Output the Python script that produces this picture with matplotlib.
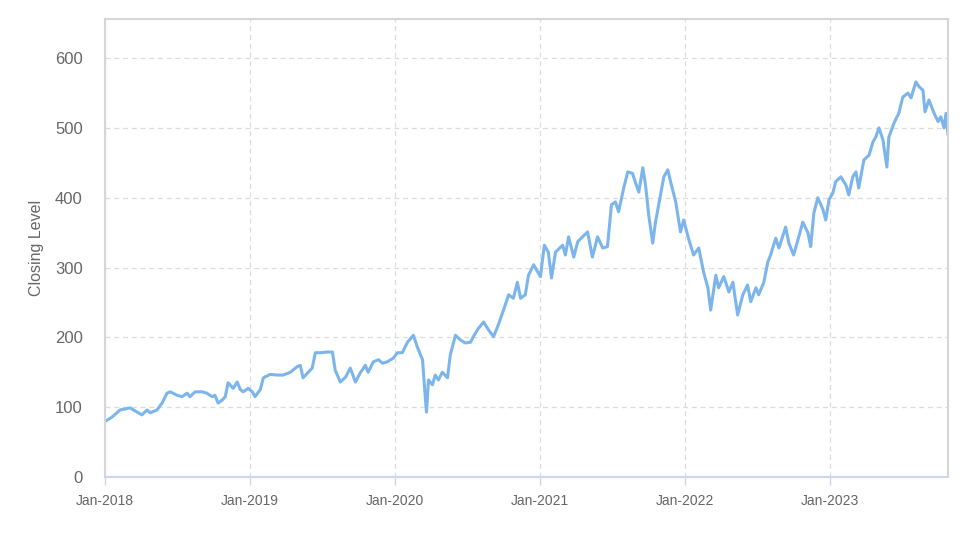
import matplotlib
matplotlib.use("Agg")
import matplotlib.pyplot as plt
import pandas as pd

base_date = "2018-01-01"

# days since 2018-01-01
day_offsets = [
    1, 13, 20, 38, 63, 81, 93, 106, 114, 131, 144, 156, 164, 182, 194, 207, 214, 227,
    245, 257, 270, 277, 285, 295, 303, 310, 323, 333, 341, 348, 361, 371, 378, 391,
    399, 416, 434, 449, 467, 484, 492, 499, 512, 522, 530, 543, 560, 573, 580, 593,
    606, 618, 631, 643, 656, 663, 676, 689, 699, 711, 726, 737, 749, 762, 777, 787,
    800, 805, 810, 815, 825, 832, 840, 850, 863, 870, 883, 896, 908, 921, 928, 941,
    954, 966, 979, 991, 1004, 1017, 1029, 1039, 1047, 1059, 1067, 1080, 1097, 1107,
    1117, 1125, 1135, 1153, 1160, 1168, 1181, 1191, 1203, 1216, 1228, 1241, 1254,
    1266, 1276, 1286, 1294, 1307, 1317, 1329, 1337, 1345, 1355, 1362, 1370, 1380,
    1387, 1395, 1408, 1418, 1425, 1438, 1450, 1458, 1471, 1483, 1496, 1508, 1519,
    1526, 1539, 1546, 1559, 1572, 1582, 1594, 1607, 1619, 1627, 1640, 1647, 1660,
    1670, 1677, 1690, 1698, 1715, 1723, 1735, 1748, 1758, 1771, 1778, 1786, 1796,
    1809, 1816, 1824, 1834, 1841, 1854, 1867, 1874, 1884, 1892, 1899, 1912, 1925,
    1935, 1942, 1950, 1960, 1970, 1975, 1988, 2000, 2010, 2023, 2031, 2043, 2051,
    2061, 2066, 2076, 2089, 2099, 2106, 2114, 2119, 2124,
]

closing_level = [
    80, 84, 87, 96, 99, 93, 89, 96, 92, 96, 106, 120, 122, 117, 115, 120, 115, 122,
    122, 120, 115, 117, 106, 110, 115, 135, 127, 136, 125, 122, 127, 122, 115, 125,
    142, 147, 146, 146, 150, 158, 160, 142, 150, 156, 178, 178, 179, 179, 153, 136,
    143, 156, 136, 149, 160, 150, 165, 168, 163, 165, 170, 178, 178, 193, 203, 186,
    168, 129, 93, 139, 132, 146, 139, 150, 142, 175, 203, 196, 192, 193, 201, 213,
    222, 211, 201, 218, 239, 261, 256, 279, 256, 261, 289, 304, 287, 332,
    322, 285, 322, 332, 318, 344, 315, 337, 344, 351, 315, 344, 328,
    330, 390, 394, 380, 414, 437, 435, 421, 408, 443, 418, 375, 335,
    365, 390, 430, 440, 423, 394, 351, 368, 340, 318, 328, 294, 271,
    239, 289, 271, 287, 265, 279, 232, 261, 275, 251, 271, 261, 279,
    308, 318, 342, 328, 358, 335, 318, 344, 365, 350, 330, 378, 400,
    383, 368, 397, 407, 423, 430, 418, 404, 430, 437, 414, 454, 461,
    480, 487, 500, 483, 444, 487, 507, 521, 544, 550, 543, 566, 559,
    554, 523, 540, 521, 509, 516, 500, 521, 490,
]

tick_dates = ["2018-01-01", "2019-01-01", "2020-01-01", "2021-01-01", "2022-01-01", "2023-01-01"]
tick_labels = ["Jan-2018", "Jan-2019", "Jan-2020", "Jan-2021", "Jan-2022", "Jan-2023"]
y_ticks = [0, 100, 200, 300, 400, 500, 600]

dates = pd.to_datetime(base_date) + pd.to_timedelta(day_offsets, unit="D")

plt.rcParams['font.family'] = ['Liberation Sans', 'DejaVu Sans']

fig = plt.figure(figsize=(9.74, 5.47), dpi=100)
ax = fig.add_axes([105/974, 1 - 477/547, (948 - 105)/974, (477 - 19)/547])

ax.plot(dates, closing_level, color="#7cb5ec", linewidth=2.2,
        solid_joinstyle="round", solid_capstyle="round")

ax.set_xlim(pd.to_datetime(base_date), dates[-1])
ax.set_ylim(0, 656)
ax.set_yticks(y_ticks)
ax.set_xticks(pd.to_datetime(tick_dates))
ax.set_xticklabels(tick_labels)

ax.grid(True, color="#dcdcdc", linestyle=(0, (4, 3)), linewidth=0.9)
ax.set_axisbelow(True)

for side in ["left", "top", "right"]:
    ax.spines[side].set_color("#d6d6d6")
    ax.spines[side].set_linewidth(1.5)
ax.spines["bottom"].set_color("#ccd6eb")
ax.spines["bottom"].set_linewidth(1.5)

ax.tick_params(axis="y", length=0, pad=16, labelsize=12, labelcolor="#666666")
ax.tick_params(axis="x", length=6, width=1, color="#ccd6eb", pad=6,
               labelsize=10, labelcolor="#666666")

ax.set_ylabel("Closing Level", fontsize=11.5, color="#666666", labelpad=8)

fig.savefig("out.png", dpi=100)
